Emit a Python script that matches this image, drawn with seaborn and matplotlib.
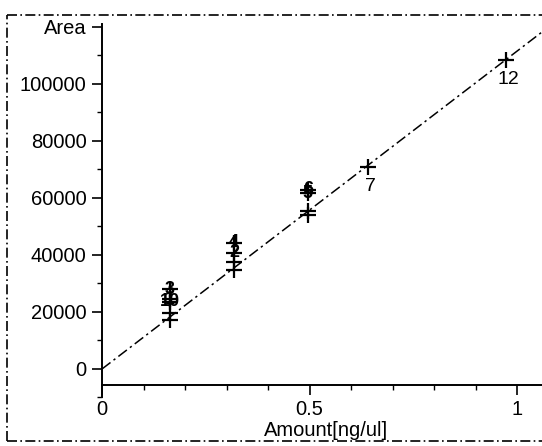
import numpy as np
import pandas as pd
import matplotlib
matplotlib.use("Agg")
import matplotlib.pyplot as plt
from matplotlib.lines import Line2D
from matplotlib.ticker import MultipleLocator
import seaborn as sns

# Calibration levels: injected amount (ng/ul), peak area and level number
amount = [0.164, 0.164, 0.164, 0.164, 0.164,
          0.318, 0.318, 0.318, 0.318,
          0.496, 0.496, 0.496, 0.496,
          0.641, 0.973]
area = [28000, 24400, 23600, 19600, 17300,
        44200, 40700, 37500, 34700,
        62800, 61600, 55300, 54000,
        70900, 108400]
level = ["3", "1", "10", "", "",
         "4", "2", "", "",
         "6", "5", "", "",
         "7", "12"]

# Linear calibration fit
fit_slope = 111500
fit_intercept = 0

y_ticks = [0, 20000, 40000, 60000, 80000, 100000, 120000]
y_tick_labels = ["0", "20000", "40000", "60000", "80000", "100000", "Area"]
x_ticks = [0, 0.5, 1]
x_tick_labels = ["0", "0.5", "1"]

sns.set_style("ticks")
plt.rcParams["font.family"] = ["Liberation Sans", "DejaVu Sans"]

W, H = 542, 446
fig = plt.figure(figsize=(W / 100, H / 100), dpi=100)
fig.patch.set_facecolor("white")
ax = fig.add_axes([102 / W, 1 - 397.5 / H, 1 - 102 / W, (397.5 - 24) / H])

xmax = 1.06
ax.set_xlim(0, xmax)
ax.set_ylim(-10000, 121000)

df = pd.DataFrame({"amount": amount, "area": area, "level": level})

# Fitted calibration line
xl = np.array([0.0, xmax])
line_df = pd.DataFrame({"amount": xl, "area": fit_slope * xl + fit_intercept})
sns.lineplot(data=line_df, x="amount", y="area", ax=ax, color="black",
             lw=1.1, dashes=False, legend=False)
ax.lines[-1].set_linestyle((0, (7, 2.5, 1.5, 2.5)))

# Calibration points
sns.scatterplot(data=df, x="amount", y="area", ax=ax, marker="+", s=120,
                color="black", linewidth=1.6, legend=False, zorder=3)

# Level numbers: stacked on the marker when off the fit line, below it otherwise
for a, y, lab in zip(amount, area, level):
    if not lab:
        continue
    resid = abs(y - (fit_slope * a + fit_intercept)) / y
    if resid < 0.03:
        ax.annotate(lab, (a, y), xytext=(2, -14), textcoords="offset points",
                    ha="center", va="center", fontsize=14, color="black")
    else:
        ax.annotate(lab, (a, y), xytext=(0, 0), textcoords="offset points",
                    ha="center", va="center", fontsize=13, color="black",
                    fontweight="bold", zorder=4)

# Axes styling
for side in ("top", "right"):
    ax.spines[side].set_visible(False)
ax.spines["bottom"].set_position(("data", -5600))
ax.spines["left"].set_linewidth(1.4)
ax.spines["bottom"].set_linewidth(1.4)
ax.spines["left"].set_color("black")
ax.spines["bottom"].set_color("black")

ax.set_yticks(y_ticks)
ax.set_yticklabels(y_tick_labels)
ax.set_xticks(x_ticks)
ax.set_xticklabels(x_tick_labels)
ax.xaxis.set_minor_locator(MultipleLocator(0.1))
ax.yaxis.set_minor_locator(MultipleLocator(10000))
ax.tick_params(axis="both", which="major", direction="out", length=7,
               width=1.2, color="black", labelsize=14.5, labelcolor="black")
ax.tick_params(axis="both", which="minor", direction="out", length=3.5,
               width=1.0, color="black")
ax.tick_params(axis="y", pad=4)
ax.tick_params(axis="x", pad=4)
ax.set_xlabel("")
ax.set_ylabel("")
ax.set_facecolor("white")

# Outer dashed frame (left, top, bottom edges) with the axis title on its bottom edge
frame_style = dict(transform=fig.transFigure, color="black", lw=1.2,
                   ls=(0, (6, 2, 1, 2)))
x0, y_top, y_bot = 7 / W, 1 - 15 / H, 1 - 441 / H
fig.add_artist(Line2D([x0, x0], [y_bot, y_top], **frame_style))
fig.add_artist(Line2D([x0, 1.0], [y_top, y_top], **frame_style))
fig.add_artist(Line2D([x0, 1.0], [y_bot, y_bot], **frame_style))
fig.text(326 / W, 1 - 431 / H, "Amount[ng/ul]", ha="center", va="center",
         fontsize=14.5, color="black")

fig.savefig("out.png", dpi=100, facecolor="white")
